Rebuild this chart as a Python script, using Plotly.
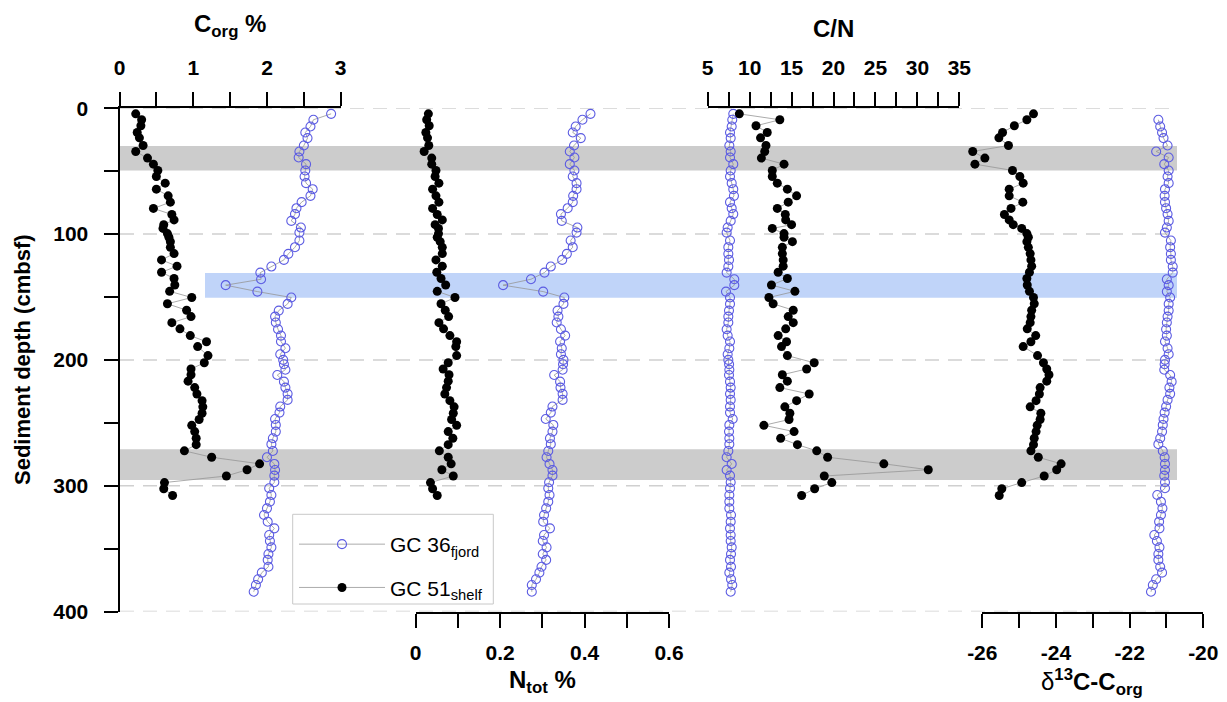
import plotly.graph_objects as go

W, H = 1227, 702

# ---------------- data ----------------
# GC 51 (shelf) - sample depths (cm) and proxies
depth_gc51 = [4.4, 9.1, 13.9, 19.2, 23.5, 29.6, 34.3, 39.6, 44.4, 49.4,
              54.2, 59.5, 64.3, 69.6, 74.6, 79.6, 84.4, 88.7, 92.5, 95.5,
              99.6, 102.5, 106.0, 110.5, 115.5, 120.5, 125.5, 130.3, 135.3, 140.5,
              145.5, 150.4, 155.4, 160.5, 165.6, 170.4, 175.3, 180.7, 185.6, 189.4,
              196.6, 202.3, 207.2, 211.8, 216.9, 222.0, 227.1, 232.4, 237.3, 242.4,
              247.4, 252.0, 257.0, 262.3, 267.4, 272.3, 277.4, 282.6, 287.3, 292.3,
              297.5, 302.4, 307.8]
corg_gc51 = [0.22, 0.30, 0.29, 0.24, 0.27, 0.32, 0.22, 0.38, 0.46, 0.52,
             0.50, 0.62, 0.50, 0.66, 0.69, 0.46, 0.71, 0.74, 0.60, 0.59,
             0.65, 0.67, 0.69, 0.69, 0.74, 0.57, 0.78, 0.57, 0.74, 0.75,
             0.68, 0.98, 0.65, 0.91, 0.97, 0.71, 0.82, 0.96, 1.18, 1.06,
             1.20, 1.15, 0.97, 0.97, 0.93, 1.02, 1.05, 1.12, 1.13, 1.12,
             1.08, 0.98, 1.02, 1.04, 1.04, 0.88, 1.25, 1.90, 1.73, 1.45,
             0.61, 0.60, 0.72]
ntot_gc51 = [0.030, 0.026, 0.032, 0.024, 0.028, 0.031, 0.020, 0.038, 0.038, 0.048,
             0.046, 0.055, 0.040, 0.048, 0.055, 0.040, 0.051, 0.063, 0.046, 0.054,
             0.054, 0.051, 0.058, 0.063, 0.063, 0.048, 0.063, 0.050, 0.060, 0.071,
             0.051, 0.093, 0.060, 0.070, 0.078, 0.055, 0.066, 0.081, 0.097, 0.095,
             0.097, 0.077, 0.065, 0.079, 0.077, 0.073, 0.069, 0.081, 0.091, 0.089,
             0.085, 0.097, 0.077, 0.088, 0.077, 0.056, 0.077, 0.084, 0.062, 0.089,
             0.035, 0.040, 0.051]
cn_gc51 = [8.77, 13.6, 10.76, 12.1, 11.3, 11.95, 11.8, 11.4, 14.1, 12.7,
           12.7, 13.3, 14.5, 15.6, 14.6, 13.3, 14.25, 14.3, 15.0, 12.7,
           14.1, 14.1, 15.1, 13.9, 13.9, 14.0, 14.0, 13.4, 14.5, 12.6,
           15.4, 12.3, 12.8, 15.2, 14.6, 15.2, 14.3, 13.4, 14.4, 13.8,
           14.5, 17.7, 16.8, 13.9, 14.5, 13.6, 17.1, 15.6, 14.2, 14.8,
           14.7, 11.7, 15.3, 13.7, 15.7, 18.0, 19.3, 26.0, 31.3, 18.9,
           19.8, 17.75, 16.2]
d13c_gc51 = [-24.61, -24.79, -25.13, -25.45, -25.55, -25.29, -26.26, -25.93, -26.20, -25.18,
             -24.98, -24.89, -25.27, -25.27, -24.90, -25.22, -25.40, -25.27, -25.16, -24.93,
             -24.79, -24.75, -24.79, -24.75, -24.70, -24.68, -24.66, -24.72, -24.79, -24.78,
             -24.72, -24.61, -24.59, -24.66, -24.68, -24.70, -24.78, -24.55, -24.68, -24.89,
             -24.50, -24.34, -24.25, -24.19, -24.25, -24.43, -24.45, -24.54, -24.70, -24.41,
             -24.43, -24.51, -24.54, -24.59, -24.61, -24.68, -24.48, -23.86, -23.98, -24.32,
             -24.93, -25.47, -25.54]

# GC 36 (fjord)
depth_gc36 = [4.4, 9.1, 14.5, 19.2, 23.7, 29.6, 34.3, 39.1, 44.4, 49.4,
              54.2, 59.5, 64.3, 69.6, 74.6, 79.4, 84.1, 89.5, 94.8, 98.8,
              105.1, 110.4, 115.7, 120.5, 125.8, 130.6, 135.9, 140.6, 145.7, 150.4,
              155.5, 160.8, 165.6, 170.3, 175.6, 180.7, 185.4, 190.7, 195.5, 200.0,
              203.5, 207.8, 212.0, 217.3, 222.0, 227.0, 231.8, 237.1, 241.9, 247.0,
              251.7, 257.0, 262.3, 267.0, 272.4, 277.4, 282.7, 287.5, 292.0, 297.3,
              302.0, 307.4, 312.7, 318.0, 323.3, 328.6, 333.9, 339.2, 344.0, 349.0,
              354.3, 359.0, 364.4, 369.1, 374.4, 378.9, 384.3]
corg_gc36 = [2.87, 2.63, 2.59, 2.52, 2.55, 2.50, 2.44, 2.43, 2.53, 2.52,
             2.51, 2.53, 2.62, 2.59, 2.47, 2.40, 2.38, 2.33, 2.46, 2.44,
             2.44, 2.38, 2.29, 2.23, 2.06, 1.91, 1.92, 1.44, 1.87, 2.33,
             2.28, 2.16, 2.11, 2.12, 2.15, 2.19, 2.19, 2.25, 2.18, 2.22,
             2.23, 2.25, 2.14, 2.23, 2.25, 2.28, 2.28, 2.18, 2.17, 2.11,
             2.12, 2.12, 2.08, 2.06, 2.08, 2.00, 2.10, 2.11, 2.10, 2.10,
             2.03, 2.06, 2.04, 2.00, 1.96, 2.01, 2.10, 2.03, 2.04, 2.06,
             2.02, 2.01, 2.02, 1.93, 1.88, 1.85, 1.82]
ntot_gc36 = [0.414, 0.395, 0.379, 0.372, 0.391, 0.375, 0.365, 0.376, 0.365, 0.376,
             0.372, 0.381, 0.381, 0.373, 0.372, 0.360, 0.344, 0.346, 0.383, 0.381,
             0.367, 0.372, 0.358, 0.347, 0.320, 0.305, 0.273, 0.207, 0.302, 0.352,
             0.350, 0.336, 0.338, 0.334, 0.344, 0.354, 0.342, 0.346, 0.344, 0.350,
             0.349, 0.348, 0.328, 0.342, 0.343, 0.348, 0.348, 0.324, 0.320, 0.308,
             0.326, 0.324, 0.318, 0.320, 0.314, 0.310, 0.317, 0.324, 0.324, 0.316,
             0.314, 0.317, 0.314, 0.309, 0.304, 0.302, 0.318, 0.304, 0.301, 0.310,
             0.301, 0.309, 0.298, 0.293, 0.285, 0.275, 0.275]
cn_gc36 = [8.05, 7.93, 7.86, 7.66, 7.74, 7.58, 7.74, 7.66, 8.05, 7.74,
           7.66, 7.86, 8.05, 8.13, 7.66, 7.86, 8.05, 7.74, 7.38, 7.26,
           7.66, 7.46, 7.46, 7.54, 7.46, 7.26, 8.17, 8.17, 7.18, 7.66,
           7.66, 7.54, 7.46, 7.46, 7.26, 7.38, 7.66, 7.58, 7.38, 7.46,
           7.55, 7.58, 7.54, 7.66, 7.74, 7.66, 7.74, 7.66, 7.66, 7.98,
           7.58, 7.54, 7.58, 7.58, 7.46, 7.26, 7.86, 7.26, 7.66, 7.74,
           7.66, 7.58, 7.58, 7.58, 7.78, 7.74, 7.66, 7.74, 7.74, 7.86,
           7.78, 7.66, 7.78, 7.58, 7.78, 7.93, 7.74]
d13c_gc36 = [None, -21.22, -21.17, -21.12, -21.08, -20.97, -21.28, -20.94, -21.06, -20.94,
             -20.97, -20.94, -21.04, -21.05, -21.04, -21.01, -20.97, -20.94, -20.99, -21.04,
             -20.88, -20.90, -20.88, -20.88, -20.83, -20.83, -20.99, -20.94, -20.99, -20.90,
             -20.94, -20.94, -20.97, -20.99, -21.01, -20.99, -21.04, -20.97, -20.94, -21.04,
             -21.05, -21.06, -20.90, -20.86, -20.92, -20.90, -20.97, -21.01, -21.05, -21.08,
             -21.10, -21.12, -21.17, -21.22, -21.10, -21.05, -21.04, -21.04, -21.06, -21.04,
             -21.04, -21.25, -21.15, -21.11, -21.15, -21.20, -21.19, -21.33, -21.26, -21.19,
             -21.22, -21.22, -21.17, -21.12, -21.28, -21.37, -21.42]

# highlighted depth intervals (cm)
gray_bands = [[30, 49.5], [271, 295.5]]
blue_band = [131, 150.5]
grid_depths = [0, 100, 200, 300, 400]

# labelled tick values (minor ticks in between)
depth_ticks = [0, 100, 200, 300, 400]
corg_ticks = [0, 1, 2, 3]
ntot_ticks = [0, 0.2, 0.4, 0.6]
ntot_labels = ['0', '0.2', '0.4', '0.6']
cn_ticks = [5, 10, 15, 20, 25, 30, 35]
d13c_ticks = [-26, -24, -22, -20]

# ---------------- styling ----------------
FONT = 'Liberation Sans'
BLUE = 'rgb(92,92,226)'
LINEGRAY = 'rgb(150,150,150)'


def px(x):
    return x / W


def py(y):
    return 1 - y / H


Y_TOP, Y_BOT = 108.3, 611.5
X_LEFT, X_RIGHT = 120, 1177
D13C_X0, D13C_X1 = 982.3, 1203.3          # pixel span of the -26 .. -20 axis
D13C_PPU = (D13C_X1 - D13C_X0) / 6.0      # pixels per permil
D13C_EXT = 0.6                            # extra room left of -26 for data

fig = go.Figure()

panels = [
    ('x', 'x', corg_gc36, corg_gc51),
    ('x2', 'x2', ntot_gc36, ntot_gc51),
    ('x3', 'x3', cn_gc36, cn_gc51),
    ('x4', 'x5', d13c_gc36, d13c_gc51),
]
for ax36, ax51, v36, v51 in panels:
    fig.add_trace(go.Scatter(
        x=v36, y=depth_gc36, xaxis=ax36, yaxis='y', mode='lines+markers',
        name='GC 36<sub>fjord</sub>', legendgroup='g36', showlegend=(ax36 == 'x'),
        line=dict(color=LINEGRAY, width=0.8),
        marker=dict(symbol='circle-open', size=9, color=BLUE, line=dict(width=1.1)),
        cliponaxis=False, connectgaps=True))
    fig.add_trace(go.Scatter(
        x=v51, y=depth_gc51, xaxis=ax51, yaxis='y', mode='lines+markers',
        name='GC 51<sub>shelf</sub>', legendgroup='g51', showlegend=(ax36 == 'x'),
        line=dict(color=LINEGRAY, width=0.8),
        marker=dict(symbol='circle', size=9, color='black'),
        cliponaxis=False))

tickfont = dict(family=FONT, size=21, color='black', weight='bold')


def axis_style(tickvals, ticktext, tick0, minor_dtick, standoff):
    return dict(showline=True, linecolor='black', linewidth=2, ticks='outside',
                ticklen=14, tickwidth=2, tickcolor='black', showgrid=False,
                zeroline=False, tickfont=tickfont, automargin=False, fixedrange=True,
                tickmode='array', tickvals=tickvals, ticktext=ticktext,
                ticklabelstandoff=standoff,
                minor=dict(tick0=tick0, dtick=minor_dtick, ticks='outside', ticklen=14,
                           tickwidth=2, tickcolor='black', showgrid=False))


fig.update_layout(
    width=W, height=H, autosize=False, template='none',
    margin=dict(l=0, r=0, t=0, b=0, pad=0),
    paper_bgcolor='white', plot_bgcolor='rgba(0,0,0,0)',
    font=dict(family=FONT, color='black'),
    yaxis=dict(domain=[py(Y_BOT), py(Y_TOP)], range=[400, 0], anchor='x',
               **axis_style(depth_ticks, [str(v) for v in depth_ticks], 0, 50, 11)),
    xaxis=dict(domain=[px(119.5), px(340.7)], range=[0, 3], side='top', anchor='y',
               **axis_style(corg_ticks, [str(v) for v in corg_ticks], 0, 0.5, 9)),
    xaxis2=dict(domain=[px(415.7), px(669)], range=[0, 0.6], side='bottom', anchor='y',
                **axis_style(ntot_ticks, ntot_labels, 0, 0.1, 7)),
    xaxis3=dict(domain=[px(707.7), px(959.3)], range=[5, 35], side='top', anchor='y',
                **axis_style(cn_ticks, [str(v) for v in cn_ticks], 5, 2.5, 9)),
    xaxis4=dict(domain=[px(D13C_X0), px(D13C_X1)], range=[-26, -20], side='bottom', anchor='y',
                **axis_style(d13c_ticks, [str(v) for v in d13c_ticks], -26, 1, 7)),
    # same scale as xaxis4 but with room for values below -26 (not drawn)
    xaxis5=dict(domain=[px(D13C_X0 - D13C_EXT * D13C_PPU), px(D13C_X1)],
                range=[-26 - D13C_EXT, -20], anchor='y', visible=False, fixedrange=True),
    showlegend=True,
    legend=dict(x=px(294), y=py(524), xanchor='left', yanchor='top',
                borderwidth=0, bgcolor='rgba(0,0,0,0)',
                font=dict(family=FONT, size=21, color='black'),
                itemwidth=86, tracegroupgap=13, traceorder='grouped'),
)

shapes = []
for b0, b1 in gray_bands:
    shapes.append(dict(type='rect', xref='paper', yref='y', x0=px(X_LEFT), x1=px(X_RIGHT),
                       y0=b0, y1=b1, fillcolor='rgb(204,204,204)', line=dict(width=0),
                       layer='below'))
shapes.append(dict(type='rect', xref='paper', yref='y', x0=px(205), x1=px(X_RIGHT),
                   y0=blue_band[0], y1=blue_band[1], fillcolor='rgb(192,212,249)',
                   line=dict(width=0), layer='below'))
for g in grid_depths:
    shapes.append(dict(type='line', xref='paper', yref='y', x0=px(X_LEFT), x1=px(X_RIGHT),
                       y0=g, y1=g, line=dict(color='rgb(208,208,208)', width=1.5,
                                             dash='14px,9px'), layer='below'))
# legend frame
shapes.append(dict(type='rect', xref='paper', yref='paper', x0=px(292.7), x1=px(493.3),
                   y0=py(604), y1=py(514.3), line=dict(color='rgb(200,200,200)', width=1),
                   fillcolor='white', layer='below'))
fig.update_layout(shapes=shapes)

title_font = dict(family=FONT, size=24, color='black')
annots = [
    dict(text='<b>C<sub>org</sub> %</b>', x=px(230), y=py(25)),
    dict(text='<b>C/N</b>', x=px(833), y=py(28)),
    dict(text='<b>N<sub>tot</sub> %</b>', x=px(542), y=py(681)),
    dict(text='δ<b><sup>13</sup>C-C<sub>org</sub></b>', x=px(1092), y=py(682)),
]
for a in annots:
    fig.add_annotation(xref='paper', yref='paper', showarrow=False,
                       xanchor='center', yanchor='middle', font=title_font, **a)
fig.add_annotation(text='<b>Sediment depth (cmbsf)</b>', xref='paper', yref='paper',
                   x=px(23), y=py(360), showarrow=False, textangle=-90,
                   xanchor='center', yanchor='middle',
                   font=dict(family=FONT, size=22, color='black'))

fig.write_html('out.html')
